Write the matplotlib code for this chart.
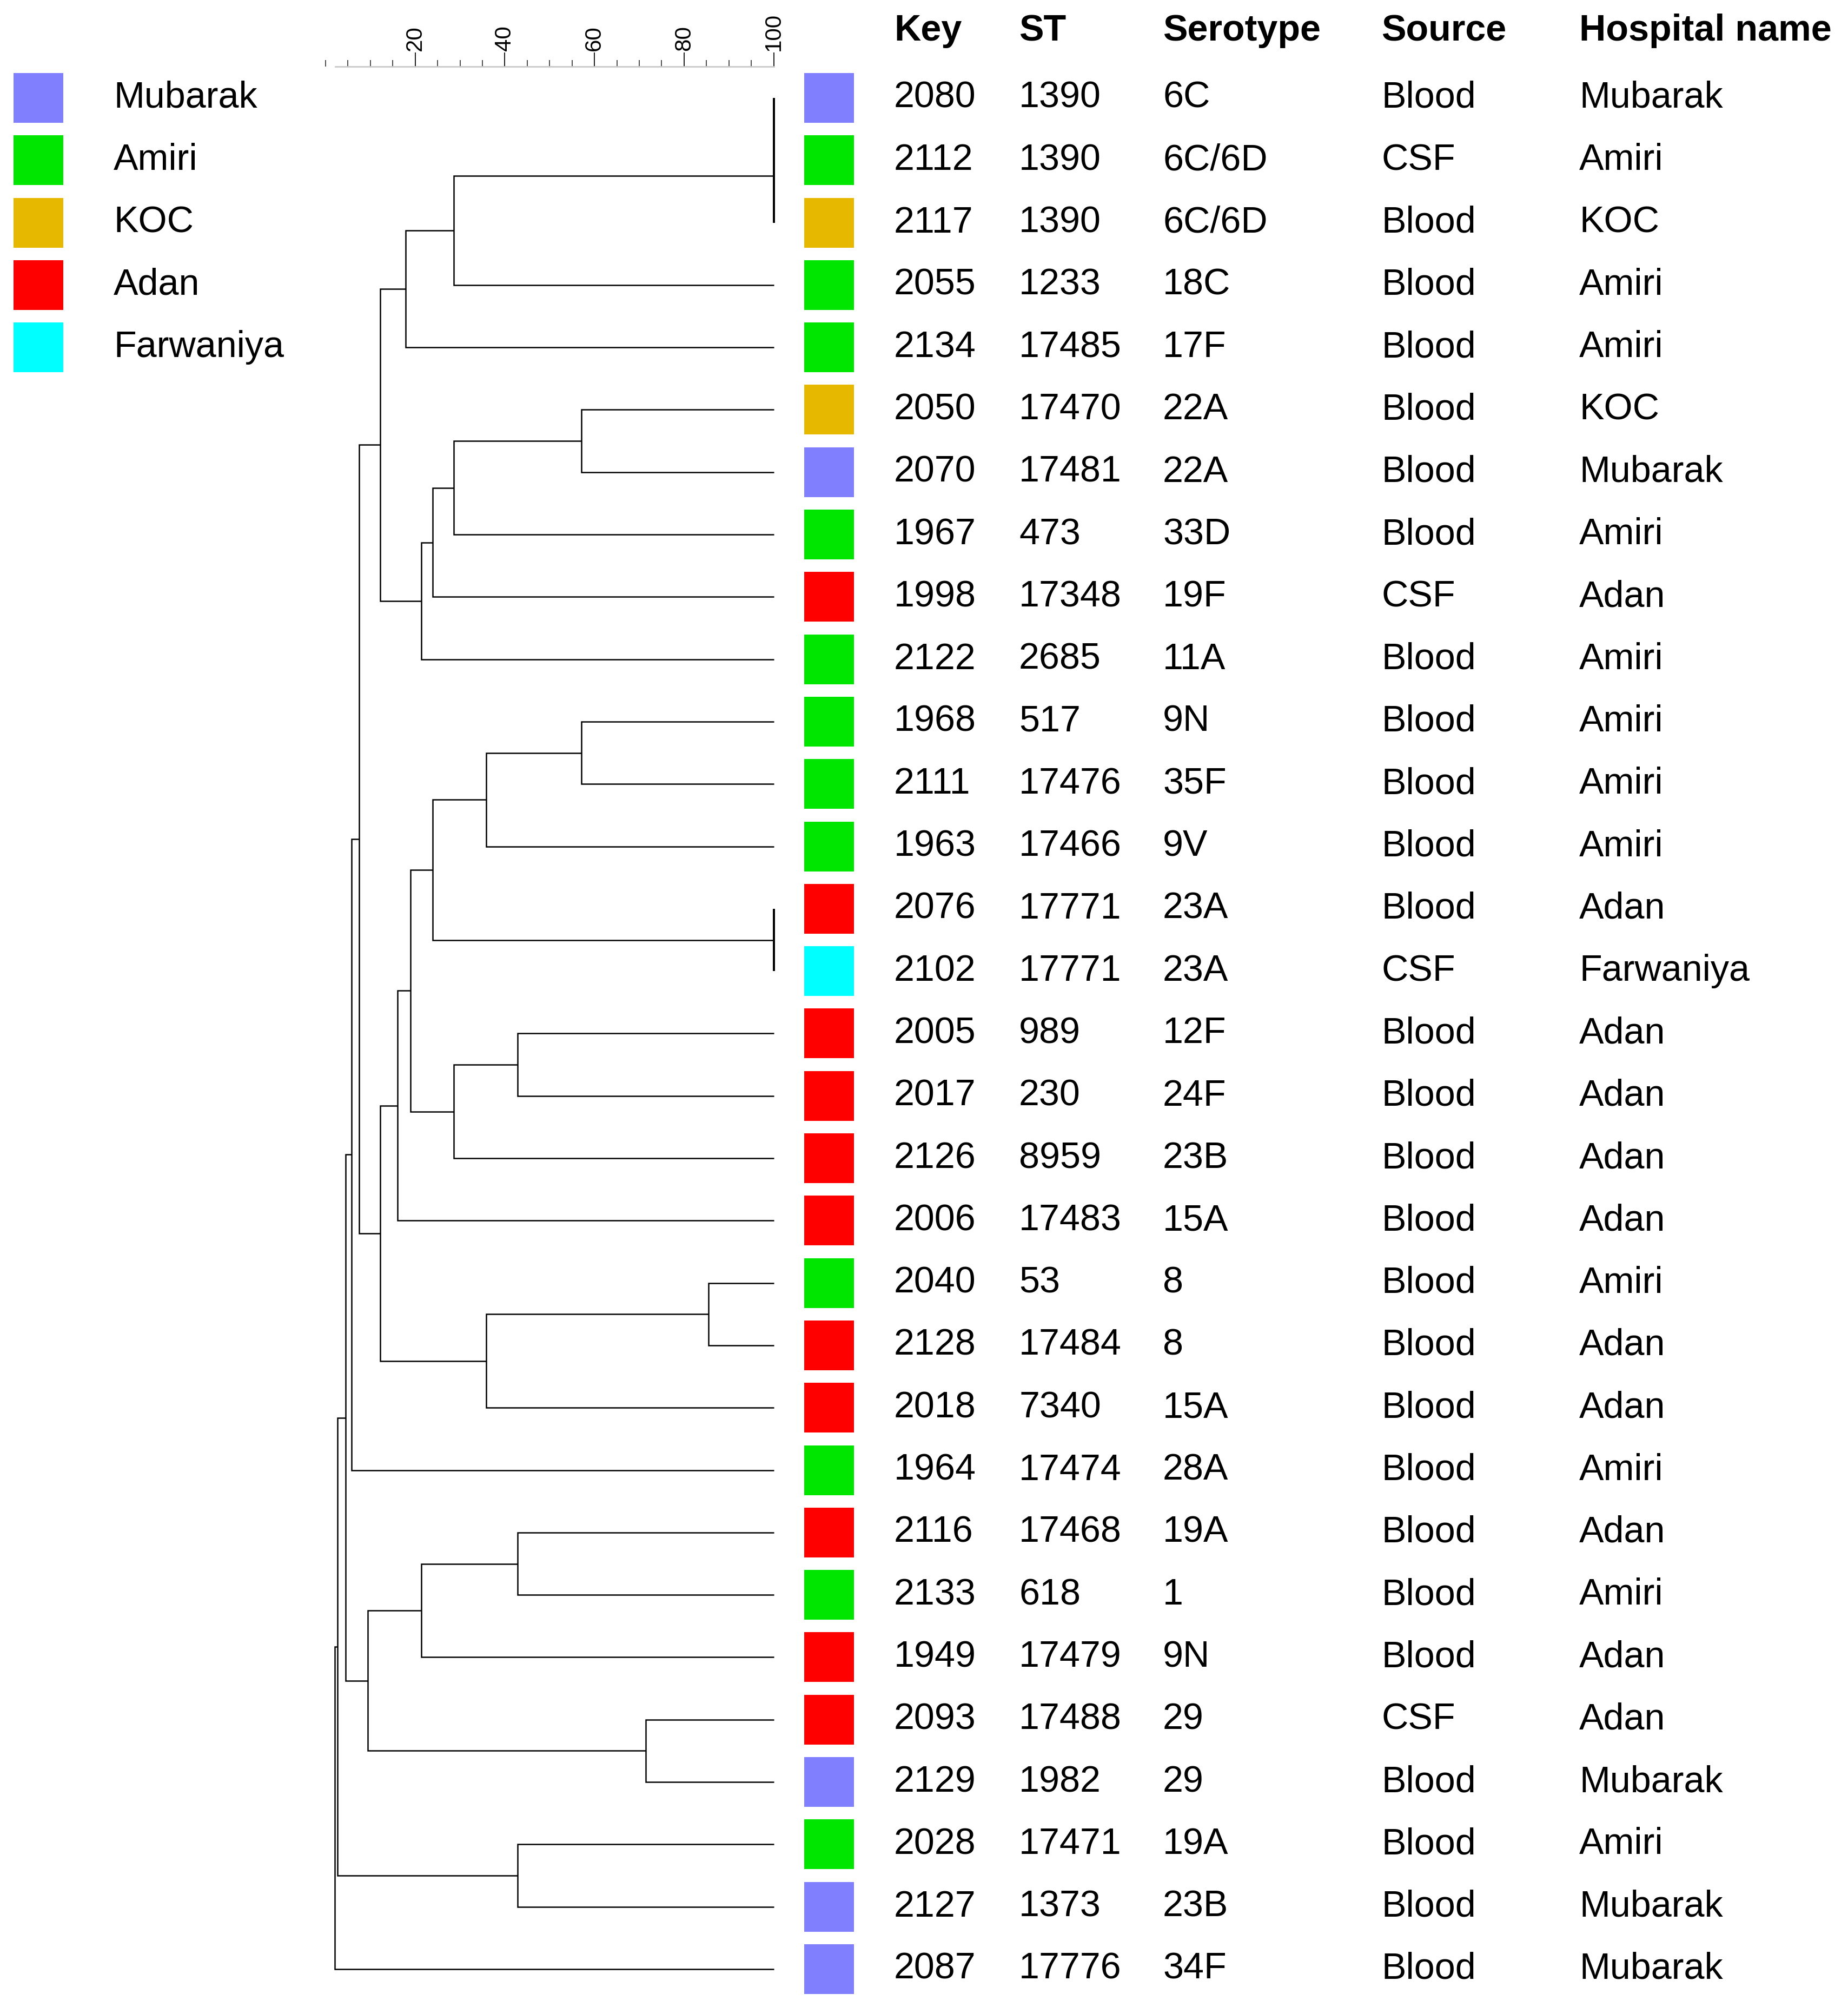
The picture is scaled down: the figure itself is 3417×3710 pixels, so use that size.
import matplotlib
matplotlib.use("Agg")
import matplotlib.pyplot as plt
from matplotlib.patches import Rectangle
from matplotlib.transforms import blended_transform_factory
from matplotlib.ticker import MultipleLocator

plt.rcParams['font.family'] = ['Liberation Sans', 'DejaVu Sans']

# isolate table (top to bottom, dendrogram order)
keys = ["2080", "2112", "2117", "2055", "2134", "2050", "2070", "1967", "1998", "2122",
        "1968", "2111", "1963", "2076", "2102", "2005", "2017", "2126", "2006", "2040",
        "2128", "2018", "1964", "2116", "2133", "1949", "2093", "2129", "2028", "2127", "2087"]
st = ["1390", "1390", "1390", "1233", "17485", "17470", "17481", "473", "17348", "2685",
      "517", "17476", "17466", "17771", "17771", "989", "230", "8959", "17483", "53",
      "17484", "7340", "17474", "17468", "618", "17479", "17488", "1982", "17471", "1373", "17776"]
serotype = ["6C", "6C/6D", "6C/6D", "18C", "17F", "22A", "22A", "33D", "19F", "11A",
            "9N", "35F", "9V", "23A", "23A", "12F", "24F", "23B", "15A", "8",
            "8", "15A", "28A", "19A", "1", "9N", "29", "29", "19A", "23B", "34F"]
source = ["Blood", "CSF", "Blood", "Blood", "Blood", "Blood", "Blood", "Blood", "CSF", "Blood",
          "Blood", "Blood", "Blood", "Blood", "CSF", "Blood", "Blood", "Blood", "Blood", "Blood",
          "Blood", "Blood", "Blood", "Blood", "Blood", "Blood", "CSF", "Blood", "Blood", "Blood", "Blood"]
hospital = ["Mubarak", "Amiri", "KOC", "Amiri", "Amiri", "KOC", "Mubarak", "Amiri", "Adan", "Amiri",
            "Amiri", "Amiri", "Amiri", "Adan", "Farwaniya", "Adan", "Adan", "Adan", "Adan", "Amiri",
            "Adan", "Adan", "Amiri", "Adan", "Amiri", "Adan", "Adan", "Mubarak", "Amiri", "Mubarak", "Mubarak"]
headers = ["Key", "ST", "Serotype", "Source", "Hospital name"]

hospitals = ["Mubarak", "Amiri", "KOC", "Adan", "Farwaniya"]
hospital_colors = ["#8080ff", "#00e600", "#e6b900", "#ff0000", "#00ffff"]

# linkage (leaves 0..30, merged clusters numbered 31.. in order), similarity %
merge_a = [0, 31, 32, 33, 5, 35, 36, 37, 34, 10, 40, 13, 41, 15, 44,
           43, 46, 19, 48, 47, 39, 51, 23, 53, 26, 54, 52, 28, 57, 59]
merge_b = [1, 2, 3, 4, 6, 7, 8, 9, 38, 11, 12, 14, 42, 16, 17,
           45, 18, 20, 21, 49, 50, 22, 24, 25, 27, 55, 56, 29, 58, 30]
merge_sim = [100, 100, 28.6, 17.9, 57.1, 28.6, 23.9, 21.4, 12.2, 57.1, 35.8, 100, 23.9, 42.8, 28.6,
             19.0, 16.1, 85.5, 35.8, 12.2, 7.5, 5.8, 42.8, 21.4, 71.4, 9.45, 4.45, 42.8, 2.6, 2.0]

W, H, DPI = 3417, 3710, 300
row0_px, row_px = 181.0, 115.3

fig = plt.figure(figsize=(W / DPI, H / DPI), dpi=DPI)
ax = fig.add_axes([602 / W, 0, (1430.6 - 602) / W, 1])
ax.set_autoscale_on(False)
ax.set_xlim(0, 100)
ax.set_ylim(1 + (H - row0_px) / row_px, 1 - row0_px / row_px)
ax.patch.set_visible(False)

# dendrogram
n = len(keys)
xs = {i: 100.0 for i in range(n)}
ys = {i: i + 1.0 for i in range(n)}
for k, (a, b, s) in enumerate(zip(merge_a, merge_b, merge_sim)):
    lw = 0.95 if s >= 100 else 0.6
    ax.plot([xs[a], s, s, xs[b]], [ys[a], ys[a], ys[b], ys[b]],
            color="black", lw=lw, solid_joinstyle="miter", solid_capstyle="butt", clip_on=False)
    xs[n + k] = s
    ys[n + k] = (ys[a] + ys[b]) / 2

# similarity scale on top
for side in ["left", "right", "bottom"]:
    ax.spines[side].set_visible(False)
ax.spines["top"].set_position(("data", 0.5))
ax.spines["top"].set_bounds(min(merge_sim) + 0.2, 100)
ax.spines["top"].set_color("#c8c8c8")
ax.spines["top"].set_linewidth(0.65)
ax.xaxis.set_major_locator(MultipleLocator(20))
ax.xaxis.set_minor_locator(MultipleLocator(5))
ax.set_xticks([20, 40, 60, 80, 100])
ax.set_yticks([])
ax.tick_params(axis="x", which="both", top=True, bottom=False, labeltop=True, labelbottom=False,
               direction="out")
ax.tick_params(axis="x", which="major", length=6.2, width=0.48, color="#202020", pad=0.9,
               labelsize=10.1, labelrotation=90)
ax.tick_params(axis="x", which="minor", length=2.9, width=0.48, color="#505050")

trans = blended_transform_factory(fig.transFigure, ax.transData)
base = 18 / row_px
fs = 16.4
box_w, box_h = 92 / W, 92 / row_px

# legend
for i, (name, c) in enumerate(zip(hospitals, hospital_colors)):
    y = i + 1
    ax.add_patch(Rectangle((25 / W, y - box_h / 2), box_w, box_h, transform=trans,
                           facecolor=c, edgecolor="none", clip_on=False))
    ax.text(210 / W, y + base, name, transform=trans, fontsize=fs, va="baseline", ha="left")

# color strip + table
col_x = [1653, 1884, 2150, 2554, 2920]
for hx, h in zip(col_x, headers):
    ax.text(hx / W, -0.075 + base, h, transform=trans, fontsize=fs, fontweight="bold",
            va="baseline", ha="left")
for i in range(n):
    y = i + 1
    c = hospital_colors[hospitals.index(hospital[i])]
    ax.add_patch(Rectangle((1487 / W, y - box_h / 2), box_w, box_h, transform=trans,
                           facecolor=c, edgecolor="none", clip_on=False))
    for hx, val in zip(col_x, [keys[i], st[i], serotype[i], source[i], hospital[i]]):
        ax.text(hx / W, y + base, val, transform=trans, fontsize=fs, va="baseline", ha="left")

fig.savefig("out.png", dpi=DPI, facecolor="white")
